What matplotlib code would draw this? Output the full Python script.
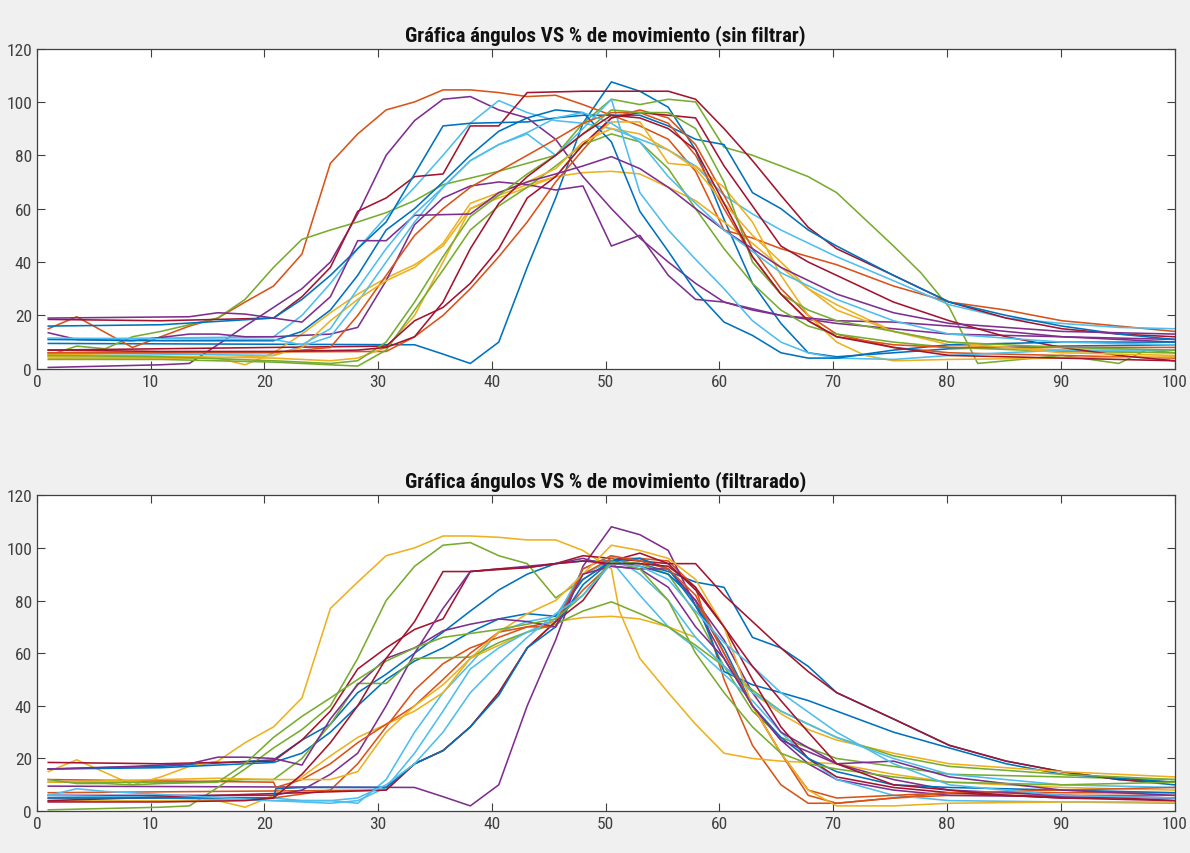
import matplotlib
matplotlib.use("Agg")
import matplotlib.pyplot as plt
from matplotlib import font_manager

# buscar una fuente estrecha parecida a la de MATLAB
instaladas = {f.name for f in font_manager.fontManager.ttflist}
estrecha = None
for nombre in ['Liberation Sans Narrow', 'DejaVu Sans Condensed', 'Roboto Condensed', 'Open Sans Condensed', 'Arial Narrow']:
    if nombre in instaladas:
        estrecha = nombre
        break
if estrecha:
    plt.rcParams['font.family'] = [estrecha, 'DejaVu Sans']
    tam_tick, tam_tit = 12.5, 15
else:
    plt.rcParams['font.family'] = ['Liberation Sans', 'DejaVu Sans']
    tam_tick, tam_tit = 12, 12.5

# colores por defecto de MATLAB
azul, naranja, amarillo, morado = '#0072BD', '#D95319', '#EDB120', '#7E2F8E'
verde, celeste, granate = '#77AC30', '#4DBEEE', '#A2142F'

# ---------------- sin filtrar ----------------
sf01_x = [1, 33.2, 35.7, 38.1, 40.6, 43.1, 45.6, 48, 50.5, 53, 55.5, 57.9, 60.4, 62.9, 65.4, 67.8, 70.3, 75.3, 80.2, 90.1, 100]
sf01_y = [9.5, 9, 5.5, 2, 10, 38, 64, 92, 107.5, 104, 98, 82, 56, 32, 17, 6, 4.5, 6, 7.5, 8.5, 9]
sf02_x = [1, 3.5, 8.4, 10.9, 13.4, 15.9, 18.3, 20.8, 23.3, 25.8, 28.2, 30.7, 33.2, 35.7, 38.1, 40.6, 43.1, 45.6, 48, 50.5, 53, 55.5, 57.9, 60.4, 62.9, 65.4, 70.3, 75.3, 80.2, 85.2, 90.1, 95.1, 100]
sf02_y = [15, 19.5, 8, 12, 16, 19, 25, 31, 43, 77, 88, 97, 100, 104.5, 104.5, 103.5, 102, 102.5, 99, 95, 91, 86, 74, 52, 49, 45, 39, 31, 25, 22, 18, 16, 14]
sf03_x = [1, 15.9, 18.3, 20.8, 23.3, 25.8, 28.2, 30.7, 33.2, 35.7, 38.1, 40.6, 43.1, 45.6, 48, 50.5, 53, 55.5, 57.9, 60.4, 62.9, 65.4, 67.8, 70.3, 75.3, 80.2, 90.1, 100]
sf03_y = [4, 4, 1.5, 6, 13, 21, 28, 34, 39, 46, 60, 65, 69, 72, 73.5, 74, 73, 68, 63, 55, 47, 38, 30, 24, 14, 9, 7, 6]
sf04_x = [1, 10.9, 13.4, 15.9, 18.3, 20.8, 23.3, 25.8, 28.2, 30.7, 33.2, 35.7, 38.1, 40.6, 43.1, 45.6, 48, 50.5, 53, 55.5, 57.9, 60.4, 65.4, 70.3, 75.3, 80.2, 90.1, 100]
sf04_y = [0.5, 1.5, 2, 9, 16, 23, 30, 40, 58, 80, 93, 101, 102, 97, 94, 86, 72, 60, 49, 40, 32, 25, 20, 17, 15, 13, 12, 11]
sf05_x = [1, 3.5, 6, 8.4, 10.9, 15.9, 18.3, 20.8, 23.3, 25.8, 28.2, 30.7, 33.2, 35.7, 40.6, 45.6, 48, 50.5, 53, 55.5, 57.9, 60.4, 62.9, 65.4, 67.8, 70.3, 72.8, 75.3, 77.7, 80.2, 82.7, 85.2, 90.1, 95.1, 97.5, 100]
sf05_y = [5, 8.5, 7.5, 12, 14, 19, 26, 38, 48.5, 52, 55, 58.5, 63, 69, 74, 80, 92, 101, 99, 101, 100, 83, 80, 76, 72, 66, 56, 46, 36, 23, 2, 3, 5, 2, 7, 6]
sf06_x = [1, 20.8, 23.3, 25.8, 28.2, 30.7, 33.2, 35.7, 38.1, 40.6, 43.1, 45.6, 48, 50.5, 53, 55.5, 57.9, 60.4, 62.9, 65.4, 70.3, 75.3, 80.2, 85.2, 90.1, 95.1, 100]
sf06_y = [11, 12, 20, 32, 45, 57, 68, 80, 92, 100.5, 96, 93, 92, 90, 86, 82, 76, 65, 58, 52, 42, 33, 24, 19, 17, 15.5, 15]
sf07_x = [1, 10.9, 20.8, 23.3, 25.8, 28.2, 30.7, 33.2, 35.7, 38.1, 40.6, 43.1, 48, 53, 55.5, 57.9, 60.4, 62.9, 65.4, 67.8, 70.3, 75.3, 80.2, 85.2, 90.1, 95.1, 100]
sf07_y = [18.5, 18, 19, 27, 38, 59, 64, 72, 73, 91, 91, 103.5, 104, 104, 104, 101, 90, 78, 65, 53, 45, 35, 25, 19, 15, 13, 12]
sf08_x = [1, 10.9, 20.8, 23.3, 25.8, 28.2, 30.7, 33.2, 35.7, 38.1, 43.1, 45.6, 48, 50.5, 53, 55.5, 57.9, 60.4, 62.9, 65.4, 67.8, 70.3, 75.3, 80.2, 85.2, 90.1, 95.1, 100]
sf08_y = [16, 16.5, 19, 26, 35, 45, 55, 73, 91, 92, 92.5, 94, 95, 95, 95, 91, 86, 84, 66, 60, 52, 46, 35, 25, 20, 16, 13, 11]
sf09_x = [1, 30.7, 33.2, 35.7, 38.1, 40.6, 43.1, 45.6, 48, 50.5, 53, 55.5, 57.9, 60.4, 62.9, 65.4, 67.8, 70.3, 75.3, 80.2, 100]
sf09_y = [6, 6.5, 12, 20, 30, 42, 55, 70, 82, 94, 97, 94, 84, 65, 45, 30, 20, 13, 8, 6, 4]
sf10_x = [1, 20.8, 25.8, 28.2, 30.7, 33.2, 35.7, 38.1, 40.6, 43.1, 45.6, 48, 50.5, 53, 55.5, 57.9, 60.4, 62.9, 65.4, 67.8, 70.3, 72.8, 75.3, 80.2, 90.1, 100]
sf10_y = [5.5, 4, 3, 4, 8, 20, 40, 60, 64, 68, 72, 84, 92.5, 92.5, 77, 76, 68, 55, 35, 20, 10, 5, 3, 3.5, 4, 4.5]
sf11_x = [1, 3.5, 8.4, 13.4, 15.9, 18.3, 20.8, 23.3, 25.8, 28.2, 30.7, 33.2, 35.7, 38.1, 40.6, 43.1, 45.6, 48, 50.5, 53, 55.5, 57.9, 60.4, 62.9, 65.4, 70.3, 75.3, 80.2, 85.2, 90.1, 100]
sf11_y = [13.5, 11, 10.5, 13, 13, 12, 12, 12.5, 13, 15.5, 33, 54, 64, 68.5, 70, 69, 67, 68.5, 46, 50, 35, 26, 25, 22, 20, 18, 17.5, 16, 14, 12, 10]
sf12_x = [1, 10.9, 20.8, 25.8, 28.2, 30.7, 33.2, 35.7, 38.1, 40.6, 43.1, 45.6, 48, 50.5, 53, 55.5, 57.9, 60.4, 62.9, 65.4, 67.8, 70.3, 75.3, 80.2, 90.1, 100]
sf12_y = [3.5, 3.5, 2.5, 1.5, 1, 7, 22, 37, 52, 61, 68, 76, 84, 88, 85, 75, 60, 45, 32, 22, 16, 13, 10, 8, 6.5, 6]
sf13_x = [1, 20.8, 25.8, 28.2, 30.7, 33.2, 35.7, 38.1, 40.6, 43.1, 45.6, 48, 50.5, 53, 55.5, 57.9, 60.4, 62.9, 65.4, 67.8, 70.3, 75.3, 80.2, 90.1, 100]
sf13_y = [6, 5, 12, 25, 40, 55, 68, 78, 84, 88, 80, 90, 101, 66, 52, 41, 30, 18, 10, 6, 4, 3.5, 5, 7, 7]
sf14_x = [1, 30.7, 33.2, 35.7, 38.1, 40.6, 43.1, 45.6, 48, 50.5, 53, 55.5, 57.9, 60.4, 62.9, 65.4, 67.8, 70.3, 75.3, 80.2, 85.2, 90.1, 95.1, 100]
sf14_y = [7, 8.5, 18, 23, 32, 45, 64, 72, 84, 94, 96, 95, 94, 76, 61, 46, 40, 35, 25, 18, 12, 8, 5, 3]
sf15_x = [1, 10.9, 20.8, 23.3, 25.8, 28.2, 30.7, 33.2, 35.7, 38.1, 40.6, 43.1, 45.6, 48, 50.5, 53, 55.5, 57.9, 60.4, 62.9, 65.4, 67.8, 70.3, 75.3, 80.2, 90.1, 100]
sf15_y = [11, 10.5, 10.5, 14, 22, 35, 52, 60, 70, 80, 89, 94, 97, 96, 85, 59, 44, 29, 17.5, 12.5, 6, 4, 4, 7, 9, 10, 10]
sf16_x = [1, 20.8, 25.8, 28.2, 30.7, 33.2, 35.7, 38.1, 40.6, 43.1, 45.6, 48, 50.5, 53, 55.5, 57.9, 60.4, 62.9, 65.4, 67.8, 70.3, 75.3, 80.2, 100]
sf16_y = [6, 6, 8, 20, 35, 50, 60, 68, 74, 80, 86, 92, 96, 96, 92, 80, 60, 42, 28, 18, 12, 9, 8, 8]
sf17_x = [1, 15.9, 20.8, 23.3, 25.8, 28.2, 30.7, 33.2, 35.7, 38.1, 40.6, 43.1, 45.6, 48, 50.5, 53, 55.5, 57.9, 60.4, 62.9, 65.4, 67.8, 70.3, 75.3, 80.2, 90.1, 100]
sf17_y = [4.5, 4, 5, 8, 18, 26, 33, 38, 47, 62, 66, 70, 75, 85, 90, 88, 82, 75, 62, 50, 40, 30, 22, 14, 10, 6, 5]
sf18_x = [1, 13.4, 15.9, 18.3, 20.8, 23.3, 25.8, 28.2, 30.7, 33.2, 38.1, 40.6, 43.1, 45.6, 48, 50.5, 53, 55.5, 57.9, 60.4, 62.9, 65.4, 70.3, 75.3, 80.2, 90.1, 100]
sf18_y = [19, 19.5, 21, 20.5, 19, 17.5, 27, 48, 48, 57.5, 58, 66, 70, 73, 76, 79.5, 75, 68, 60, 52, 45, 38, 28, 21, 17, 14, 13]
sf19_x = [1, 10.9, 20.8, 25.8, 28.2, 30.7, 33.2, 35.7, 38.1, 40.6, 43.1, 45.6, 48, 50.5, 53, 55.5, 57.9, 60.4, 62.9, 65.4, 67.8, 70.3, 75.3, 80.2, 90.1, 100]
sf19_y = [5, 4.5, 3, 2, 3, 10, 25, 42, 57, 65, 73, 80, 88, 97, 96, 96, 90, 70, 40, 28, 22, 18, 14, 10, 8, 7]
sf20_x = [1, 20.8, 23.3, 25.8, 28.2, 30.7, 33.2, 35.7, 38.1, 40.6, 43.1, 45.6, 48, 50.5, 53, 55.5, 57.9, 60.4, 62.9, 65.4, 70.3, 75.3, 80.2, 90.1, 100]
sf20_y = [11.5, 11, 9, 15, 30, 45, 58, 68, 78, 84, 88.5, 94, 96, 92, 85, 72, 62, 52, 44, 36, 26, 18, 13, 10, 9]
sf21_x = [1, 10.9, 20.8, 28.2, 30.7, 33.2, 35.7, 38.1, 40.6, 43.1, 45.6, 48, 50.5, 53, 55.5, 57.9, 60.4, 62.9, 65.4, 67.8, 70.3, 75.3, 80.2, 90.1, 100]
sf21_y = [7, 6.5, 6.5, 7, 8, 12, 25, 45, 62, 72, 80, 88, 95, 94, 90, 82, 62, 42, 28, 18, 12, 8, 5, 4, 3]

# ---------------- filtrado ----------------
fi01_x = [1, 10.9, 20.8, 23.3, 25.8, 28.2, 30.7, 33.2, 35.7, 38.1, 40.6, 43.1, 45.6, 48, 50.5, 53, 55.5, 57.9, 60.4, 62.9, 65.4, 67.8, 70.3, 75.3, 80.2, 85.2, 90.1, 95.1, 100]
fi01_y = [16, 17, 19.5, 27, 33, 45, 52, 60, 68, 76, 84, 90, 94, 95, 95, 94, 91, 87, 85, 66, 62, 55, 45, 35, 25, 19, 15, 12, 10]
fi02_x = [1, 30.7, 33.2, 35.7, 38.1, 40.6, 43.1, 45.6, 48, 50.5, 53, 55.5, 57.9, 60.4, 62.9, 65.4, 67.8, 70.3, 75.3, 80.2, 100]
fi02_y = [7, 8, 18, 23, 32, 45, 62, 72, 84, 94, 96, 95, 85, 50, 25, 10, 3, 3, 5, 6, 6]
fi03_x = [1, 3.5, 8.4, 10.9, 13.4, 15.9, 18.3, 20.8, 23.3, 25.8, 28.2, 30.7, 33.2, 35.7, 38.1, 40.6, 43.1, 45.6, 48, 50.5, 51.2, 53, 55.5, 57.9, 60.4, 62.9, 65.4, 70.3, 75.3, 80.2, 90.1, 100]
fi03_y = [15, 19.5, 10, 13, 17, 19, 26, 32, 43, 77, 87, 97, 100, 104.5, 104.5, 104, 103, 103, 99, 92, 76, 58, 45, 33, 22, 20, 19, 18, 14, 11, 9, 8]
fi04_x = [1, 33.2, 35.7, 38.1, 40.6, 43.1, 45.6, 48, 50.5, 53, 55.5, 57.9, 60.4, 62.9, 65.4, 67.8, 70.3, 75.3, 80.2, 90.1, 100]
fi04_y = [9.5, 9, 5.5, 2, 10, 40, 65, 93, 108, 105, 99, 78, 58, 40, 27, 18, 12, 8, 6, 5.5, 5]
fi05_x = [1, 10.9, 13.4, 15.9, 18.3, 20.8, 23.3, 25.8, 28.2, 30.7, 33.2, 35.7, 38.1, 40.6, 43.1, 45.6, 48, 50.5, 53, 55.5, 57.9, 60.4, 62.9, 65.4, 70.3, 75.3, 80.2, 90.1, 100]
fi05_y = [0.5, 1.5, 2, 9, 16, 24, 31, 40, 58, 80, 93, 101, 102, 97, 94, 81, 88, 95, 94, 90, 75, 55, 38, 28, 20, 17, 14, 13, 12]
fi06_x = [1, 20.8, 23.3, 25.8, 28.2, 30.7, 33.2, 35.7, 38.1, 40.6, 43.1, 45.6, 48, 50.5, 53, 55.5, 57.9, 60.4, 62.9, 65.4, 67.8, 70.3, 75.3, 80.2, 90.1, 100]
fi06_y = [6, 5, 4, 4, 3, 12, 30, 45, 56, 68, 72, 74, 90, 95, 82, 70, 62, 52, 42, 30, 20, 12, 6, 4, 3.5, 3]
fi07_x = [1, 10.9, 20.8, 23.3, 25.8, 28.2, 30.7, 33.2, 35.7, 38.1, 43.1, 45.6, 48, 50.5, 53, 55.5, 57.9, 60.4, 62.9, 65.4, 67.8, 70.3, 75.3, 80.2, 85.2, 90.1, 95.1, 100]
fi07_y = [18.5, 18, 19, 27, 38, 54, 62, 69, 73, 91, 92.5, 94, 97, 96, 95, 94, 94, 82, 72, 62, 53, 45, 35, 25, 19, 15, 12, 11]
fi08_x = [1, 10.9, 20.8, 23.3, 25.8, 28.2, 30.7, 33.2, 35.7, 38.1, 40.6, 43.1, 45.6, 48, 50.5, 53, 55.5, 57.9, 60.4, 62.9, 65.4, 67.8, 70.3, 75.3, 80.2, 85.2, 90.1, 100]
fi08_y = [16, 16.5, 18.5, 22, 30, 40, 50, 57, 62, 68, 73, 75, 74, 88, 95, 93, 90, 80, 53, 48, 45, 42, 38, 30, 24, 18, 14, 11]
fi09_x = [1, 20.8, 25.8, 28.2, 30.7, 33.2, 35.7, 38.1, 40.6, 43.1, 45.6, 48, 50.5, 53, 55.5, 57.9, 60.4, 62.9, 65.4, 67.8, 70.3, 75.3, 80.2, 100]
fi09_y = [5, 5, 8, 18, 32, 46, 56, 62, 66, 70, 72, 90, 96, 96, 92, 80, 60, 40, 22, 8, 5, 6, 7, 7]
fi10_x = [1, 15.9, 18.3, 20.8, 23.3, 25.8, 28.2, 30.7, 33.2, 35.7, 38.1, 40.6, 43.1, 45.6, 48, 50.5, 53, 55.5, 57.9, 60.4, 62.9, 65.4, 67.8, 70.3, 75.3, 80.2, 90.1, 100]
fi10_y = [4, 4, 1.5, 6, 13, 21, 28, 33, 38, 45, 58, 63, 68, 72, 73.5, 74, 73, 70, 66, 55, 45, 37, 31, 27, 22, 18, 15, 13]
fi11_x = [1, 20.8, 23.3, 25.8, 28.2, 30.7, 33.2, 35.7, 38.1, 40.6, 43.1, 45.6, 48, 50.5, 53, 55.5, 57.9, 60.4, 62.9, 65.4, 70.3, 75.3, 80.2, 90.1, 100]
fi11_y = [6, 6, 8, 14, 22, 40, 60, 77, 91, 92, 93, 94, 96, 93, 92, 92, 80, 65, 45, 30, 18, 12, 8, 6, 5]
fi12_x = [1, 13.4, 15.9, 18.3, 20.8, 23.3, 25.8, 28.2, 30.7, 33.2, 38.1, 40.6, 43.1, 45.6, 48, 50.5, 53, 55.5, 57.9, 60.4, 62.9, 65.4, 70.3, 75.3, 80.2, 90.1, 100]
fi12_y = [11, 11, 11.5, 12, 12, 20, 33, 48.5, 48.5, 58, 58.5, 64, 68, 71, 76, 79.5, 75, 70, 63, 55, 46, 38, 28, 21, 17, 14, 12]
fi13_x = [1, 20.8, 25.8, 28.2, 30.7, 33.2, 35.7, 38.1, 40.6, 43.1, 45.6, 48, 50.5, 53, 55.5, 57.9, 60.4, 62.9, 65.4, 67.8, 70.3, 75.3, 80.2, 90.1, 100]
fi13_y = [6, 4, 3, 4, 9, 22, 38, 54, 62, 68, 73, 92, 97, 90, 80, 66, 55, 45, 38, 33, 28, 20, 14, 10, 9]
fi14_x = [1, 30.7, 33.2, 35.7, 38.1, 40.6, 43.1, 45.6, 48, 50.5, 53, 55.5, 57.9, 60.4, 62.9, 65.4, 67.8, 70.3, 75.3, 80.2, 85.2, 90.1, 95.1, 100]
fi14_y = [4, 8, 18, 23, 32, 45, 62, 72, 80, 95, 98, 94, 84, 70, 50, 32, 20, 13, 9, 7, 6, 5, 5, 4]
fi15_x = [1, 10.9, 20.8, 21, 23.3, 25.8, 28.2, 30.7, 33.2, 35.7, 38.1, 40.6, 43.1, 45.6, 48, 50.5, 53, 55.5, 57.9, 60.4, 62.9, 65.4, 67.8, 70.3, 75.3, 80.2, 90.1, 100]
fi15_y = [5, 5, 5, 8.5, 9, 9, 9, 9, 18, 23, 32, 44, 62, 70, 86, 95, 96, 92, 78, 62, 40, 28, 20, 15, 10, 9, 8, 7]
fi16_x = [1, 20.8, 21, 23.3, 25.8, 28.2, 30.7, 33.2, 35.7, 38.1, 40.6, 43.1, 45.6, 48, 50.5, 53, 55.5, 57.9, 60.4, 62.9, 65.4, 67.8, 70.3, 75.3, 80.2, 90.1, 100]
fi16_y = [12, 11, 9, 12, 18, 26, 33, 40, 50, 60, 68, 70, 70, 92, 97, 95, 92, 82, 60, 40, 22, 6, 3, 5, 7, 8, 9]
fi17_x = [1, 15.9, 20.8, 23.3, 25.8, 28.2, 30.7, 33.2, 35.7, 38.1, 40.6, 43.1, 45.6, 48, 50.5, 53, 55.5, 57.9, 60.4, 62.9, 65.4, 67.8, 70.3, 75.3, 80.2, 90.1, 100]
fi17_y = [11, 12.5, 12, 12, 12, 15, 30, 40, 48, 58, 68, 75, 80, 90, 101, 99, 96, 88, 70, 40, 22, 8, 2, 2, 3, 3.5, 3.5]
fi18_x = [1, 8.4, 13.4, 15.9, 18.3, 20.8, 23.3, 25.8, 28.2, 30.7, 33.2, 35.7, 38.1, 40.6, 43.1, 45.6, 48, 50.5, 53, 55.5, 57.9, 60.4, 62.9, 65.4, 70.3, 75.3, 80.2, 90.1, 100]
fi18_y = [16, 17, 18, 20.5, 20.5, 20, 17.5, 35, 48, 58, 62, 68.5, 71, 73, 72, 70, 90, 93, 92, 85, 70, 58, 40, 27, 18, 19, 13, 8, 6]
fi19_x = [1, 3.5, 6, 8.4, 10.9, 15.9, 18.3, 20.8, 23.3, 25.8, 28.2, 30.7, 33.2, 35.7, 40.6, 45.6, 48, 50.5, 53, 55.5, 57.9, 60.4, 62.9, 65.4, 67.8, 70.3, 75.3, 80.2, 90.1, 100]
fi19_y = [12, 10.5, 10.5, 10, 10.5, 11, 18, 28, 36, 43, 50, 57, 62, 66, 69, 73, 82, 95, 92, 80, 60, 45, 32, 22, 18, 16, 13, 11, 10, 11]
fi20_x = [1, 3.5, 6, 20.8, 23.3, 25.8, 28.2, 30.7, 33.2, 35.7, 38.1, 40.6, 43.1, 45.6, 48, 50.5, 53, 55.5, 57.9, 60.4, 62.9, 65.4, 70.3, 75.3, 80.2, 90.1, 100]
fi20_y = [6, 8.5, 7.5, 4, 4, 4, 5, 10, 18, 30, 45, 56, 66, 75, 82, 94, 93, 88, 76, 64, 55, 45, 30, 18, 10, 6, 5]
fi21_x = [1, 10.9, 18.3, 20.8, 23.3, 25.8, 28.2, 30.7, 33.2, 35.7, 38.1, 40.6, 43.1, 45.6, 48, 50.5, 53, 55.5, 57.9, 60.4, 62.9, 65.4, 67.8, 70.3, 75.3, 80.2, 85.2, 90.1, 100]
fi21_y = [3.5, 3.5, 4, 5, 14, 26, 40, 58, 72, 91, 91, 92, 92.5, 94, 95, 94, 94, 93, 85, 70, 55, 42, 30, 18, 10, 8, 6, 5, 4]

colores = [azul, naranja, amarillo, morado, verde, celeste, granate]

sin_filtrar = [(sf01_x, sf01_y), (sf02_x, sf02_y), (sf03_x, sf03_y), (sf04_x, sf04_y), (sf05_x, sf05_y),
               (sf06_x, sf06_y), (sf07_x, sf07_y), (sf08_x, sf08_y), (sf09_x, sf09_y), (sf10_x, sf10_y),
               (sf11_x, sf11_y), (sf12_x, sf12_y), (sf13_x, sf13_y), (sf14_x, sf14_y), (sf15_x, sf15_y),
               (sf16_x, sf16_y), (sf17_x, sf17_y), (sf18_x, sf18_y), (sf19_x, sf19_y), (sf20_x, sf20_y),
               (sf21_x, sf21_y)]
filtrado = [(fi01_x, fi01_y), (fi02_x, fi02_y), (fi03_x, fi03_y), (fi04_x, fi04_y), (fi05_x, fi05_y),
            (fi06_x, fi06_y), (fi07_x, fi07_y), (fi08_x, fi08_y), (fi09_x, fi09_y), (fi10_x, fi10_y),
            (fi11_x, fi11_y), (fi12_x, fi12_y), (fi13_x, fi13_y), (fi14_x, fi14_y), (fi15_x, fi15_y),
            (fi16_x, fi16_y), (fi17_x, fi17_y), (fi18_x, fi18_y), (fi19_x, fi19_y), (fi20_x, fi20_y),
            (fi21_x, fi21_y)]

fig = plt.figure(figsize=(11.9, 8.54), dpi=100, facecolor='#f0f0f0')
ax1 = fig.add_axes([0.031, 0.567, 0.956, 0.375])
ax2 = fig.add_axes([0.031, 0.049, 0.956, 0.370])

for ax, datos, titulo in [(ax1, sin_filtrar, 'Gráfica ángulos VS % de movimiento (sin filtrar)'),
                          (ax2, filtrado, 'Gráfica ángulos VS % de movimiento (filtrarado)')]:
    for i, (xs, ys) in enumerate(datos):
        ax.plot(xs, ys, color=colores[i % 7], lw=1.15)
    ax.set_xlim(0, 100)
    ax.set_ylim(0, 120)
    ax.set_xticks(range(0, 101, 10))
    ax.set_yticks(range(0, 121, 20))
    ax.tick_params(direction='in', top=True, right=True, length=6, width=0.8,
                   colors='#404040', labelsize=tam_tick, labelcolor='#404040')
    for s in ax.spines.values():
        s.set_color('#404040')
        s.set_linewidth(0.9)
    ax.set_title(titulo, fontsize=tam_tit, fontweight='bold', color='#111111', pad=6)

fig.savefig('out.png', dpi=100, facecolor=fig.get_facecolor())
